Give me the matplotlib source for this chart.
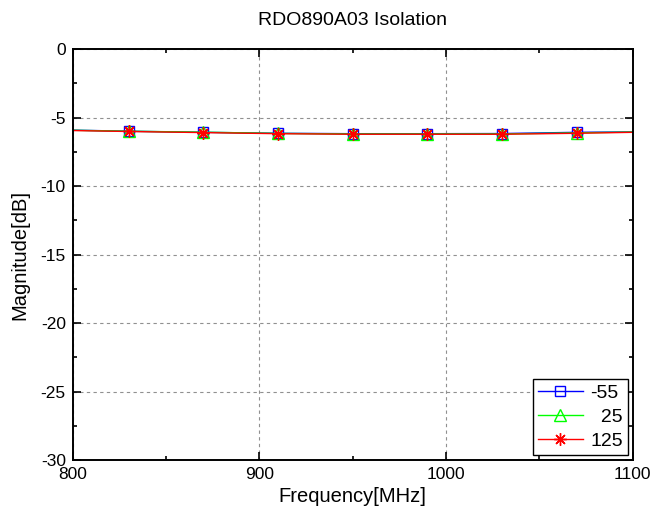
import matplotlib.pyplot as plt
from matplotlib.ticker import MultipleLocator

plt.rcParams['font.family'] = ['Liberation Sans', 'DejaVu Sans']
plt.rcParams['axes.unicode_minus'] = False

# frequency points (MHz) and isolation (dB) per temperature
freq = [800, 830, 870, 910, 950, 990, 1030, 1070, 1100]
iso_m55 = [-5.92, -6.00, -6.08, -6.15, -6.18, -6.18, -6.17, -6.08, -6.05]
iso_25 = [-5.93, -6.00, -6.07, -6.16, -6.20, -6.20, -6.20, -6.12, -6.06]
iso_125 = [-5.95, -6.02, -6.10, -6.18, -6.22, -6.22, -6.22, -6.15, -6.08]
labels = ['-55', '\u200725', '125']

fig = plt.figure(figsize=(6.51, 5.15), dpi=100)
ax = fig.add_axes([0.1117, 0.1068, 0.8602, 0.798])

mk = slice(1, 8)
ax.plot(freq, iso_m55, color='#0000ff', lw=1, marker='s', ms=6.5, mfc='none',
        markevery=mk, label=labels[0])
ax.plot(freq, iso_25, color='#00ff00', lw=1, marker='^', ms=8, mfc='none',
        markevery=mk, label=labels[1])
ax.plot(freq, iso_125, color='#ff0000', lw=1, marker=(8, 2, 0), ms=9,
        markevery=mk, label=labels[2])

ax.set_xlim(800, 1100)
ax.set_ylim(-30, 0)
ax.xaxis.set_major_locator(MultipleLocator(100))
ax.xaxis.set_minor_locator(MultipleLocator(50))
ax.yaxis.set_major_locator(MultipleLocator(5))
ax.yaxis.set_minor_locator(MultipleLocator(2.5))
ax.tick_params(which='both', direction='in', top=True, right=True,
               labelsize=12.5, width=1.2)
ax.tick_params(which='major', length=6, pad=5)
ax.tick_params(which='minor', length=3)
for s in ax.spines.values():
    s.set_linewidth(1.4)
ax.grid(True, which='major', color='#909090', ls=(0, (3, 3)), lw=0.8)

ax.set_title('RDO890A03 Isolation', fontsize=14, pad=17)
ax.set_xlabel('Frequency[MHz]', fontsize=14.5, labelpad=4)
ax.set_ylabel('Magnitude[dB]', fontsize=14.5, labelpad=8)

leg = ax.legend(loc='lower right', fontsize=14, fancybox=False, framealpha=1,
                edgecolor='black', borderaxespad=0.25, handlelength=2.3,
                handletextpad=0.4, labelspacing=0.34, borderpad=0.25)
leg.get_frame().set_linewidth(1)

plt.savefig('out.png', dpi=100)
